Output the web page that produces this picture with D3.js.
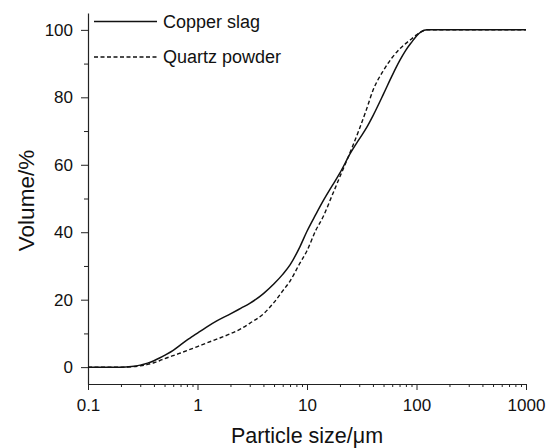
<!DOCTYPE html>
<html>
<head>
<meta charset="utf-8">
<script src="https://cdn.jsdelivr.net/npm/d3@7"></script>
<style>
  html, body { margin: 0; padding: 0; background: #fff; }
  svg { display: block; font-family: "Liberation Sans", Arial, Helvetica, sans-serif; }
</style>
</head>
<body>
<svg id="chart" width="554" height="448"></svg>
<script>
// Particle size distribution (cumulative volume %)
const sizesSlag = [0.1, 0.2, 0.25, 0.3, 0.35, 0.4, 0.45, 0.5, 0.6, 0.7, 0.8, 0.9, 1, 1.2, 1.5, 2, 2.5, 3, 4, 5, 6, 7, 8.5, 10, 12, 14, 17, 20, 25, 30, 35, 40, 50, 60, 70, 80, 90, 100, 110, 125, 200, 500, 1000];
const copperSlag = [0, 0, 0.2, 0.6, 1.2, 1.9, 2.7, 3.5, 5.0, 6.6, 8.0, 9.1, 10.1, 11.8, 13.7, 15.8, 17.5, 18.9, 21.8, 24.7, 27.5, 30.3, 35.3, 40.3, 45.2, 49.2, 53.8, 57.6, 63.5, 67.6, 71.0, 74.5, 81.0, 86.5, 90.8, 94.0, 96.3, 98.2, 99.4, 100, 100, 100, 100];

const sizesQuartz = [0.1, 0.2, 0.25, 0.3, 0.35, 0.4, 0.45, 0.5, 0.6, 0.7, 0.8, 1, 1.2, 1.5, 2, 2.5, 3, 4, 5, 6, 7, 8.5, 10, 12, 14, 17, 20, 25, 30, 35, 40, 50, 60, 70, 80, 90, 100, 110, 125, 200, 500, 1000];
const quartzPowder = [0, 0, 0.1, 0.4, 0.8, 1.3, 1.9, 2.5, 3.4, 4.2, 4.9, 6.1, 7.1, 8.3, 9.9, 11.4, 13.0, 15.8, 19.2, 22.6, 25.5, 30.5, 34.5, 40.5, 44.5, 51.0, 56.5, 64.0, 70.5, 76.5, 82.0, 88.0, 91.8, 94.3, 96.0, 97.3, 98.5, 99.4, 100, 100, 100, 100];

const xTickValues = [0.1, 1, 10, 100, 1000];
const xTickLabels = ["0.1", "1", "10", "100", "1000"];
const yTickValues = [0, 20, 40, 60, 80, 100];
const yMinorValues = [10, 30, 50, 70, 90];

const legendNames = ["Copper slag", "Quartz powder"];

const svg = d3.select("#chart");
const plotLeft = 88, plotRight = 526, plotTop = 13, plotBottom = 384;

const x = d3.scaleLog().domain([0.1, 1000]).range([plotLeft, plotRight]);
const y = d3.scaleLinear().domain([-5, 105]).range([plotBottom, plotTop]);

// minor x ticks: 2..9 within each decade
const xMinor = [];
for (let d = 0.1; d < 1000; d *= 10) {
  for (let k = 2; k <= 9; k++) xMinor.push(+(d * k).toPrecision(3));
}

const axisColor = "#222";

// bottom axis
const gx = svg.append("g").attr("transform", `translate(0,${plotBottom})`);
gx.call(d3.axisBottom(x).tickValues(xTickValues)
  .tickFormat((d, i) => xTickLabels[i]).tickSize(6).tickPadding(9).tickSizeOuter(0));
gx.append("g").call(d3.axisBottom(x).tickValues(xMinor).tickFormat("").tickSize(3))
  .select(".domain").remove();

// left axis
const gy = svg.append("g").attr("transform", `translate(${plotLeft},0)`);
gy.call(d3.axisLeft(y).tickValues(yTickValues).tickSize(7).tickPadding(8).tickSizeOuter(0));
gy.append("g").call(d3.axisLeft(y).tickValues(yMinorValues).tickFormat("").tickSize(4))
  .select(".domain").remove();

svg.selectAll(".domain").attr("stroke", axisColor).attr("stroke-width", 1.2);
svg.selectAll(".tick line").attr("stroke", axisColor).attr("stroke-width", 1);
svg.selectAll(".tick text").attr("fill", "#111").style("font-size", "17px")
  .style("font-family", "'Liberation Sans', Arial, sans-serif");

// axis titles
svg.append("text")
  .attr("x", (plotLeft + plotRight) / 2).attr("y", 443)
  .attr("text-anchor", "middle")
  .style("font-size", "21.5px").attr("fill", "#111")
  .text("Particle size/\u03bcm");

svg.append("text")
  .attr("transform", `translate(34,${(y(0) + y(100)) / 2 + 2}) rotate(-90)`)
  .attr("text-anchor", "middle")
  .style("font-size", "22.5px").attr("fill", "#111")
  .text("Volume/%");

// curves
const line = d3.line()
  .x(d => x(d[0]))
  .y(d => y(d[1]))
  .curve(d3.curveMonotoneX);

const slagPts = sizesSlag.map((s, i) => [s, copperSlag[i]]);
const quartzPts = sizesQuartz.map((s, i) => [s, quartzPowder[i]]);

svg.append("path").datum(quartzPts)
  .attr("d", line).attr("fill", "none")
  .attr("stroke", "#111").attr("stroke-width", 1.4)
  .attr("stroke-dasharray", "4,2.5");

svg.append("path").datum(slagPts)
  .attr("d", line).attr("fill", "none")
  .attr("stroke", "#111").attr("stroke-width", 1.5);

// legend
const legend = svg.append("g");
const legendY = [21.5, 57];
const legendDash = [null, "4,2.5"];
legendNames.forEach((name, i) => {
  legend.append("line")
    .attr("x1", 94).attr("x2", 157)
    .attr("y1", legendY[i]).attr("y2", legendY[i])
    .attr("stroke", "#111").attr("stroke-width", 1.4)
    .attr("stroke-dasharray", legendDash[i]);
  legend.append("text")
    .attr("x", 163).attr("y", legendY[i] + 6)
    .style("font-size", "18px").attr("fill", "#111")
    .text(name);
});
</script>
</body>
</html>
